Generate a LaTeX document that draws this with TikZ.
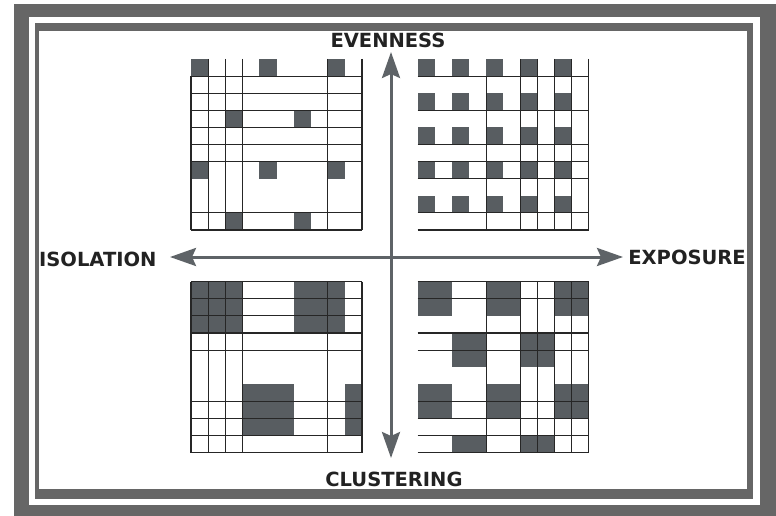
\documentclass[tikz,border=0pt]{standalone}
\usepackage{fontspec}
\setmainfont{DejaVu Sans}
\usetikzlibrary{arrows.meta}

\definecolor{framegray}{HTML}{666666}
\definecolor{cellgray}{HTML}{585D61}
\definecolor{axisgray}{HTML}{5E6367}
\definecolor{labelink}{HTML}{222222}

\tikzset{
  gridline/.style={draw=black!85, line width=1.1pt},
  cellfill/.style={fill=cellgray},
  axis/.style={draw=axisgray, line width=3pt,
    {Stealth[length=26pt,width=18pt,inset=4pt]}-{Stealth[length=26pt,width=18pt,inset=4pt]}},
  axislabel/.style={font=\fontsize{19.5}{19.5}\selectfont\bfseries, text=labelink, inner sep=0pt},
}

\begin{document}
\begin{tikzpicture}[x=1pt, y=-1pt]
  \useasboundingbox (0, 0) rectangle (776, 516);

  % double frame
  \fill[white] (0, 0) rectangle (776, 516);
  \fill[framegray] (14, 4) rectangle (776, 516);
  \fill[white] (29, 17) rectangle (760, 505);
  \fill[framegray] (35, 23) rectangle (753, 499);
  \fill[white] (39, 31) rectangle (747, 489);

  % evenness + isolation
  \begin{scope}[shift={(191, 59)}, x=17.1pt, y=-17.1pt]
    \foreach \c/\r in {0/0, 4/0, 8/0, 2/3, 6/3, 0/6, 4/6, 8/6, 2/9, 6/9}
      \fill[cellfill] (\c, \r) rectangle ++(1, 1);
    \foreach \c in {0, 1, 2, 3, 8, 10}
      \draw[gridline] (\c, 1) -- (\c, 10);
    \foreach \c in {1, 2, 3, 8, 10}
      \draw[gridline] (\c, 0) -- (\c, 1);
    \foreach \r in {1, 2, 3, 4, 5, 6, 9, 10}
      \draw[gridline] (0, \r) -- (10, \r);
  \end{scope}

  % evenness + exposure
  \begin{scope}[shift={(417.7, 59)}, x=17.1pt, y=-17.1pt]
    \foreach \c in {0, 2, 4, 6, 8}
      \foreach \r in {0, 2, 4, 6, 8}
        \fill[cellfill] (\c, \r) rectangle ++(1, 1);
    \draw[gridline] (4, 1) -- (4, 10);
    \foreach \c in {6, 7, 8, 9, 10}
      \draw[gridline] (\c, 0) -- (\c, 10);
    \foreach \r in {1, 3, 5, 6, 7, 9, 10}
      \draw[gridline] (0, \r) -- (10, \r);
  \end{scope}

  % clustering + isolation
  \begin{scope}[shift={(191, 281.7)}, x=17.1pt, y=-17.1pt]
    \fill[cellfill] (0, 0) rectangle (3, 3);
    \fill[cellfill] (6, 0) rectangle (9, 3);
    \fill[cellfill] (3, 6) rectangle (6, 9);
    \fill[cellfill] (9, 6) rectangle (10, 9);
    \foreach \c in {0, 1, 2, 3, 8, 10}
      \draw[gridline] (\c, 0) -- (\c, 10);
    \foreach \r in {0, 1, 2, 3, 4, 7, 8, 9, 10}
      \draw[gridline] (0, \r) -- (10, \r);
  \end{scope}

  % clustering + exposure
  \begin{scope}[shift={(417.7, 281.7)}, x=17.1pt, y=-17.1pt]
    \foreach \c/\r in {0/0, 4/0, 8/0, 2/3, 6/3, 0/6, 4/6, 8/6}
      \fill[cellfill] (\c, \r) rectangle ++(2, 2);
    \foreach \c in {2, 6}
      \fill[cellfill] (\c, 9) rectangle ++(2, 1);
    \foreach \c in {4, 6, 7, 8, 9, 10}
      \draw[gridline] (\c, 0) -- (\c, 10);
    \foreach \r in {0, 1, 3, 4, 7, 8, 9, 10}
      \draw[gridline] (0, \r) -- (10, \r);
  \end{scope}

  % axes
  \node[axislabel] (even) at (388, 40.5) {EVENNESS};
  \node[axislabel] (clus) at (394, 479.5) {CLUSTERING};
  \node[axislabel, anchor=west] (isol) at (39, 259) {ISOLATION};
  \node[axislabel, anchor=east] (expo) at (746, 257.5) {EXPOSURE};
  \coordinate (top) at (391, 52);
  \coordinate (bot) at (391, 458);
  \coordinate (lft) at (170, 257);
  \coordinate (rgt) at (623, 257);
  \draw[axis] (top) -- (bot);
  \draw[axis] (lft) -- (rgt);
\end{tikzpicture}
\end{document}
